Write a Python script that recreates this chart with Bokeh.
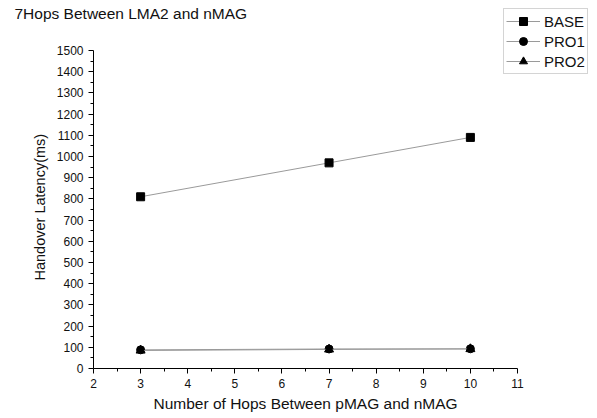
from bokeh.plotting import figure
from bokeh.models import Range1d, FixedTicker, Legend, LegendItem, Title
from bokeh.embed import file_html
from bokeh.resources import INLINE

hops = [3, 7, 10]
base = [810, 970, 1090]
pro1 = [88, 92, 93]
pro2 = [85, 90, 92]
x_ticks = list(range(2, 12))
y_ticks = list(range(0, 1501, 100))
title_text = "7Hops Between LMA2 and nMAG"
x_label = "Number of Hops Between pMAG and nMAG"
y_label = "Handover Latency(ms)"

FONT = "Liberation Sans"

# layout: frame spans from x=93 to 597 px and y=0 to 368 px;
# axis 2..11 occupies 93..517 px, 0..1500 occupies 368..50 px
W, H = 597, 418
left, bottom = 93, 50
x_px = (517 - left) / (x_ticks[-1] - x_ticks[0])
y_px = (368 - 50) / (y_ticks[-1] - y_ticks[0])
x_max = x_ticks[0] + (W - left) / x_px
y_max = (H - bottom) / y_px

p = figure(width=W, height=H, output_backend="svg", toolbar_location=None,
           x_range=Range1d(x_ticks[0], x_max), y_range=Range1d(0, y_max),
           min_border_left=left, min_border_right=0, min_border_top=0, min_border_bottom=bottom)
p.outline_line_color = None
p.grid.visible = False

for ax in (p.xaxis[0], p.yaxis[0]):
    ax.axis_line_color = "black"
    ax.major_tick_line_color = "black"
    ax.minor_tick_line_color = "black"
    ax.major_tick_out = 5
    ax.major_tick_in = 0
    ax.minor_tick_out = 3
    ax.minor_tick_in = 0
    ax.major_label_text_font = FONT
    ax.major_label_text_font_size = "12px"
    ax.major_label_text_color = "#111111"

p.xaxis.bounds = (x_ticks[0], x_ticks[-1])
p.yaxis.bounds = (y_ticks[0], y_ticks[-1])
p.xaxis.ticker = FixedTicker(ticks=x_ticks, minor_ticks=[x + 0.5 for x in x_ticks[:-1]])
p.yaxis.ticker = FixedTicker(ticks=y_ticks, minor_ticks=[y + 50 for y in y_ticks[:-1]])

lc = "#9a9a9a"
l1 = p.line(hops, base, line_color=lc, line_width=1)
m1 = p.scatter(hops, base, marker="square", size=8, color="black")
l2 = p.line(hops, pro1, line_color=lc, line_width=1)
m2 = p.scatter(hops, pro1, marker="circle", size=8, color="black")
l3 = p.line(hops, pro2, line_color=lc, line_width=1)
m3 = p.scatter(hops, pro2, marker="triangle", size=9, color="black")

legend = Legend(items=[LegendItem(label="BASE", renderers=[l1, m1]),
                       LegendItem(label="PRO1", renderers=[l2, m2]),
                       LegendItem(label="PRO2", renderers=[l3, m3])],
                location=(410, 294))
legend.label_text_font = FONT
legend.label_text_font_size = "15px"
legend.label_text_color = "#111111"
legend.border_line_color = "#aaaaaa"
legend.border_line_width = 1
legend.padding = 2
legend.spacing = 0
legend.glyph_height = 20
legend.glyph_width = 34
legend.label_standoff = 4
legend.label_height = 20
legend.margin = 0
p.add_layout(legend, "center")

# x-axis label as a title below the axis, centred under the 2..11 span
xt = Title(text=x_label, align="left", offset=60, standoff=4,
           text_font=FONT, text_font_size="15.5px", text_font_style="normal",
           text_color="#111111")
p.add_layout(xt, "below")

# y-axis label as a title left of the axis, centred on the 0..1500 span
yt = Title(text=y_label, align="left", offset=88, standoff=12,
           text_font=FONT, text_font_size="14.5px", text_font_style="normal",
           text_color="#111111")
p.add_layout(yt, "left")

# chart title, drawn in the top panel at the far left
p.title.text = title_text
p.title.text_font = FONT
p.title.text_font_size = "15.5px"
p.title.text_font_style = "normal"
p.title.text_color = "#111111"
p.title.offset = -79
p.title.standoff = -43

open("out.html", "w").write(file_html(p, INLINE))
